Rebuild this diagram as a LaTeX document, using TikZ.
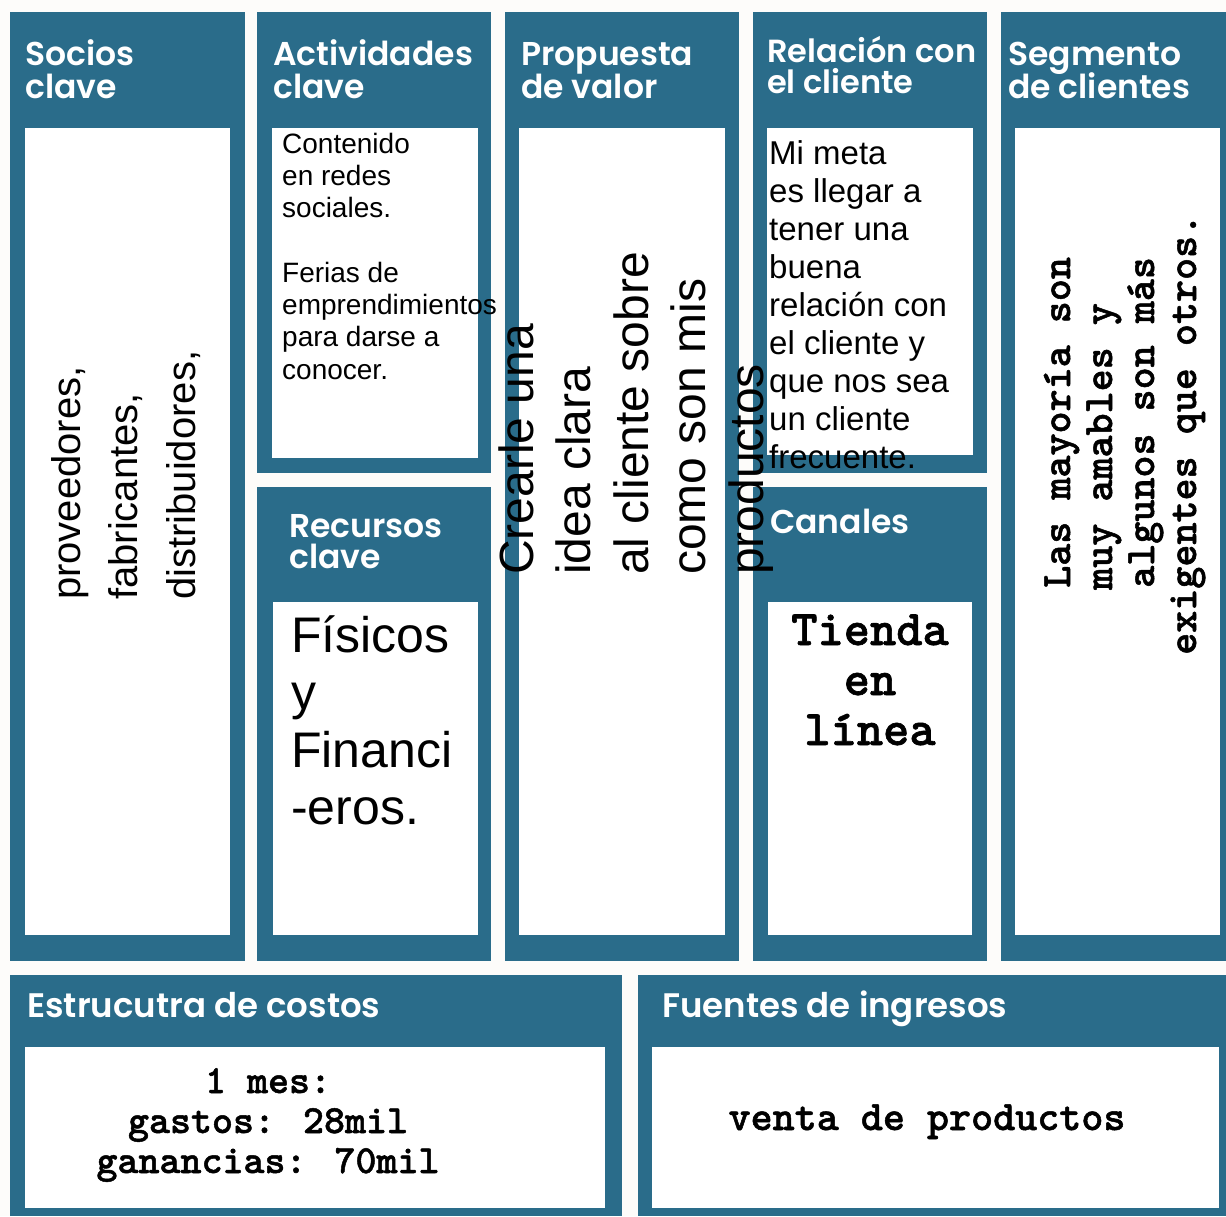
\documentclass[tikz,border=0pt]{standalone}
\usepackage{fontspec}
\setmainfont{Liberation Sans}
\newfontfamily\hdrfont{Poppins}[UprightFont={* SemiBold}]
\newfontfamily\courfont{lmmonolt10-bold.otf}[FakeBold=1.2]
\definecolor{cteal}{HTML}{2A6C8A}
\definecolor{bgc}{HTML}{FDFCFA}
\newcommand{\fs}[2]{\fontsize{#1}{#2}\selectfont}
\begin{document}
\begin{tikzpicture}[x=1pt,y=-1pt,
  blk/.style={fill=cteal, draw=none},
  inbox/.style={fill=white, draw=none},
  hd/.style={text=white, font=\hdrfont\fs{33}{33}, anchor=base west, inner sep=0pt},
  hdsmall/.style={hd, font=\hdrfont\fs{32}{31}},
  hdwide/.style={hd, font=\hdrfont\fs{34}{33}},
  sans/.style={text=black, anchor=base west, inner sep=0pt},
  monoc/.style={text=black, anchor=base, inner sep=0pt},
  monol/.style={text=black, anchor=base west, inner sep=0pt},
]
\useasboundingbox[fill=bgc] (0,0) rectangle (1226,1216);

% ---- blocks ----
\path[blk] (10,12) rectangle (245,961);      % Socios
\path[inbox] (25,128) rectangle (230,935);
\path[blk] (257,12) rectangle (491,473);     % Actividades
\path[inbox] (272,128) rectangle (478,458);
\path[blk] (257,487) rectangle (491,961);    % Recursos
\path[inbox] (273,602) rectangle (478,935);
\path[blk] (505,12) rectangle (739,961);     % Propuesta
\path[inbox] (519,128) rectangle (725,935);
\path[blk] (753,12) rectangle (987,473);     % Relacion
\path[inbox] (767,128) rectangle (973,455);
\path[blk] (753,487) rectangle (987,961);    % Canales
\path[inbox] (768,602) rectangle (972,935);
\path[blk] (1001,12) rectangle (1226,961);   % Segmento
\path[inbox] (1015,128) rectangle (1220,935);
\path[blk] (10,975) rectangle (622,1216);    % Estructura
\path[inbox] (25,1047) rectangle (605,1208);
\path[blk] (638,975) rectangle (1226,1216);  % Fuentes
\path[inbox] (652,1047) rectangle (1219,1208);

% ---- headers ----
\node[hd] (hsoc1) at (25,65) {Socios};
\node[hd] (hsoc2) at (25,98) {clave};
\node[hd] (hact1) at (273,65) {Actividades};
\node[hd] (hact2) at (273,98) {clave};
\node[hd] (hpro1) at (521,65) {Propuesta};
\node[hd] (hpro2) at (521,98) {de valor};
\node[hdsmall] (hrel1) at (767,62) {Relación con};
\node[hdsmall] (hrel2) at (767,93) {el cliente};
\node[hd] (hseg1) at (1008,65) {Segmento};
\node[hd] (hseg2) at (1008,98) {de clientes};
\node[hd] (hrec1) at (289,537) {Recursos};
\node[hd] (hrec2) at (289,568) {clave};
\node[hd] (hcan) at (770,533) {Canales};
\node[hdwide] (hest) at (27,1017) {Estrucutra de costos};
\node[hdwide] (hfue) at (662,1017) {Fuentes de ingresos};

% ---- Socios clave text (rotated) ----
\foreach \t [count=\i] in {{proveedores,},{fabricantes,},{distribuidores,}}
  \node[sans, rotate=90, font=\fs{40}{46}] (soc\i) at ({80+(\i-1)*57.5},600) {\t};

% ---- Actividades clave text ----
\foreach \t/\k in {Contenido/0,en redes/1,sociales./2,Ferias de/4,emprendimientos/5,para darse a/6,conocer./7}
  \node[sans, font=\fs{28}{32}] (act\k) at (282,{153+\k*32.3}) {\t};

% ---- Recursos clave text ----
\foreach \t [count=\i] in {Físicos,y,Financi,-eros.}
  \node[sans, font=\fs{50}{57}] (rec\i) at (291,{652+(\i-1)*57.5}) {\t};

% ---- Relacion con el cliente text ----
\foreach \t [count=\i] in {Mi meta,es llegar a,tener una,buena,relación con,el cliente y,que nos sea,un cliente,frecuente.}
  \node[sans, font=\fs{33}{38}] (rel\i) at (769,{164+(\i-1)*38}) {\t};

% ---- Canales text ----
\foreach \t [count=\i] in {Tienda,en,línea}
  \node[monoc, font=\courfont\fs{50}{50}] (can\i) at (870,{645+(\i-1)*50}) {\t};

% ---- Segmento de clientes text (rotated) ----
\foreach \t/\i/\s in {Las mayoría son/1/588,muy amables y/2/590,algunos son más/3/588,exigentes que otros./4/655}
  \node[monol, rotate=90, font=\courfont\fs{42}{42}] (seg\i) at ({1070+(\i-1)*42},\s) {\t};

% ---- Estructura de costos text ----
\foreach \t [count=\i] in {1 mes:,gastos: 28mil,ganancias: 70mil}
  \node[monoc, font=\courfont\fs{40}{40}] (est\i) at (268,{1093+(\i-1)*40}) {\t};

% ---- Fuentes de ingresos text ----
\node[monoc, font=\courfont\fs{42}{42}] (fue1) at (927,1130) {venta de productos};

% ---- Propuesta de valor text (rotated, overflowing) ----
\foreach \t [count=\i] in {Crearle una,idea clara,al cliente sobre,como son mis,productos}
  \node[sans, rotate=90, font=\fs{48}{55}] (pro\i) at ({533+(\i-1)*57.5},575) {\t};
\end{tikzpicture}
\end{document}
